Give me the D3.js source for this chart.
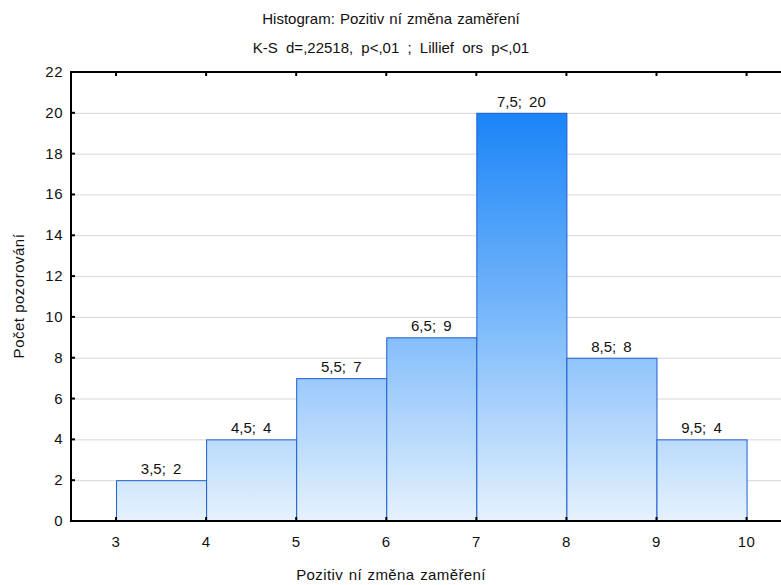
<!DOCTYPE html>
<html><head><meta charset="utf-8">
<script src="https://cdn.jsdelivr.net/npm/d3@7"></script>
<style>body{margin:0;background:#fff;}svg{display:block;font-family:"Liberation Sans",Arial,sans-serif;}</style>
</head><body>
<script>
const binStarts = [3, 4, 5, 6, 7, 8, 9];
const binEnds = [4, 5, 6, 7, 8, 9, 10];
const counts = [2, 4, 7, 9, 20, 8, 4];
const barLabels = ["3,5; 2", "4,5; 4", "5,5; 7", "6,5; 9", "7,5; 20", "8,5; 8", "9,5; 4"];
const xTicks = [3, 4, 5, 6, 7, 8, 9, 10];
const yTicks = [0, 2, 4, 6, 8, 10, 12, 14, 16, 18, 20, 22];
const titleLines = ["Histogram: Pozitiv ní změna zaměření", "K-S d=,22518, p<,01 ; Lillief ors p<,01"];
const xTitle = "Pozitiv ní změna zaměření";
const yTitle = "Počet pozorování";

const W = 781, H = 585;
const L = 71, T = 72, B = 521, R = 791.6;
const x = d3.scaleLinear().domain([2.5, 10.5]).range([L, R]);
const y = d3.scaleLinear().domain([0, 22]).range([B, T]);

const svg = d3.select("body").append("svg").attr("width", W).attr("height", H);
const defs = svg.append("defs");
const grad = defs.append("linearGradient").attr("id", "bg")
  .attr("gradientUnits", "userSpaceOnUse")
  .attr("x1", 0).attr("x2", 0).attr("y1", y(20)).attr("y2", y(0));
grad.append("stop").attr("offset", 0).attr("stop-color", "#1a84f8");
grad.append("stop").attr("offset", 0.5).attr("stop-color", "#79b8fb");
grad.append("stop").attr("offset", 1).attr("stop-color", "#e6f2fd");

// gridlines
svg.append("g").selectAll("line").data(yTicks.filter(d => d > 0 && d < 22)).join("line")
  .attr("x1", L).attr("x2", W).attr("y1", d => y(d) + 0.5).attr("y2", d => y(d) + 0.5)
  .attr("stroke", "#d8d8d8").attr("stroke-width", 1);

// bars
const bars = binStarts.map((s, i) => ({s, e: binEnds[i], c: counts[i], lab: barLabels[i]}));
svg.append("g").selectAll("rect").data(bars).join("rect")
  .attr("x", d => x(d.s) + 0.5).attr("y", d => y(d.c) + 0.5)
  .attr("width", d => x(d.e) - x(d.s)).attr("height", d => y(0) - y(d.c))
  .attr("fill", "url(#bg)").attr("stroke", "#1f5fd2").attr("stroke-width", 1);

// bar labels
svg.append("g").selectAll("text").data(bars).join("text")
  .attr("x", d => x((d.s + d.e) / 2)).attr("y", d => y(d.c) - 6)
  .attr("text-anchor", "middle").attr("font-size", 15).attr("word-spacing", 3).attr("fill", "#111")
  .text(d => d.lab);

// axes frame
svg.append("line").attr("x1", L).attr("x2", L).attr("y1", T).attr("y2", B).attr("stroke", "#000").attr("stroke-width", 2);
svg.append("line").attr("x1", L - 1).attr("x2", W).attr("y1", T).attr("y2", T).attr("stroke", "#000").attr("stroke-width", 2);
svg.append("line").attr("x1", L - 1).attr("x2", W).attr("y1", B).attr("y2", B).attr("stroke", "#000").attr("stroke-width", 2);

// y ticks (inward) and labels
svg.append("g").selectAll("line").data(yTicks).join("line")
  .attr("x1", L).attr("x2", L + 4).attr("y1", d => y(d)).attr("y2", d => y(d))
  .attr("stroke", "#000").attr("stroke-width", 2);
svg.append("g").selectAll("text").data(yTicks).join("text")
  .attr("x", L - 8).attr("y", d => y(d) + 5)
  .attr("text-anchor", "end").attr("font-size", 15).attr("letter-spacing", 0.5).attr("fill", "#111").text(d => d);

// x ticks (inward, bottom and top) and labels
svg.append("g").selectAll("line").data(xTicks).join("line")
  .attr("x1", d => x(d)).attr("x2", d => x(d)).attr("y1", B).attr("y2", B - 4)
  .attr("stroke", "#000").attr("stroke-width", 2);
svg.append("g").selectAll("line").data(xTicks).join("line")
  .attr("x1", d => x(d)).attr("x2", d => x(d)).attr("y1", T).attr("y2", T + 4)
  .attr("stroke", "#000").attr("stroke-width", 2);
svg.append("g").selectAll("text").data(xTicks).join("text")
  .attr("x", d => x(d)).attr("y", B + 26)
  .attr("text-anchor", "middle").attr("font-size", 15).attr("letter-spacing", 0.5).attr("fill", "#111").text(d => d);

// titles
svg.append("g").selectAll("text").data(titleLines).join("text")
  .attr("x", 391).attr("y", (d, i) => 24 + i * 29)
  .attr("text-anchor", "middle").attr("font-size", 15).attr("word-spacing", (d, i) => i ? 4 : 1).attr("fill", "#111").text(d => d);
svg.append("text").attr("x", 391).attr("y", 580).attr("text-anchor", "middle")
  .attr("font-size", 15).attr("letter-spacing", 0.4).attr("word-spacing", 1).attr("fill", "#111").text(xTitle);
svg.append("text").attr("transform", "translate(24,296) rotate(-90)").attr("text-anchor", "middle")
  .attr("font-size", 15).attr("letter-spacing", 0.5).attr("fill", "#111").text(yTitle);
</script>
</body></html>
